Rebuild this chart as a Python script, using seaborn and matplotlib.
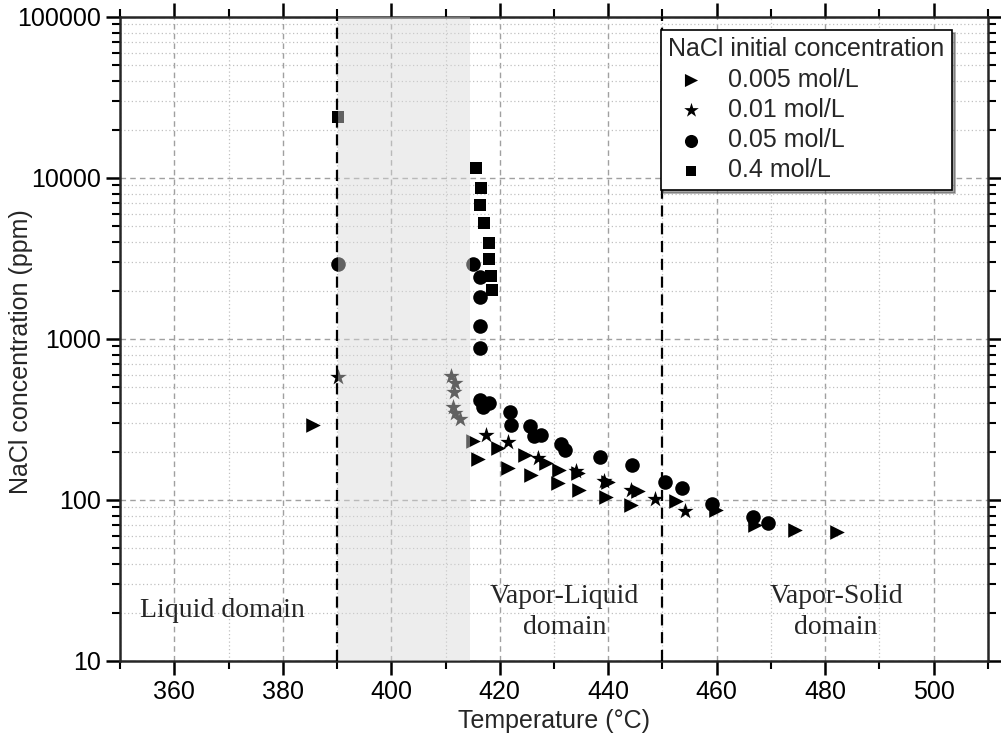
"""NaCl concentration vs temperature for several initial NaCl concentrations."""

import matplotlib

matplotlib.use("Agg")
import matplotlib.pyplot as plt
import matplotlib.ticker as mticker
import pandas as pd
import seaborn as sns

sns.set_style("ticks")
plt.rcParams["font.family"] = ["Liberation Sans", "DejaVu Sans"]

# 0.005 mol/L (triangles)
t_0005 = [385.5, 415.1, 416.0, 419.7, 421.5, 424.6, 425.8, 428.6, 430.7, 431.0,
          434.5, 434.6, 440.0, 439.5, 445.5, 444.2, 452.5, 459.8, 467.1, 474.4,
          482.2]
c_0005 = [292, 233, 179, 209, 157, 190, 143, 169, 127, 154,
          147, 115, 130, 104, 113, 93, 98, 87, 70, 65,
          63.5]

# 0.01 mol/L (stars)
t_001 = [390.1, 411.1, 411.7, 411.5, 411.4, 411.7, 412.6, 417.5, 421.5, 427.0,
         434.0, 439.3, 444.2, 448.7, 454.2]
c_001 = [583, 589, 531, 471, 380, 345, 317, 253, 230, 181,
         152, 132, 115, 101, 86]

# 0.05 mol/L (circles)
t_005 = [390.1, 415.1, 416.3, 416.4, 416.4, 416.3, 416.3, 418.0, 416.9, 421.8,
         422.0, 425.5, 426.4, 427.6, 431.2, 432.0, 438.4, 444.4, 450.5, 453.6,
         459.2, 466.7, 469.5]
c_005 = [2913, 2913, 2415, 1833, 1205, 879, 418, 399, 380, 354,
         292, 290, 250, 253, 222, 205, 186, 165, 130, 118,
         95, 78, 72]

# 0.4 mol/L (squares)
t_04 = [390.2, 415.6, 416.6, 416.4, 417.1, 418.0, 418.0, 418.4, 418.6]
c_04 = [23900, 11590, 8630, 6800, 5280, 3960, 3150, 2460, 2010]

series_labels = ["0.005 mol/L", "0.01 mol/L", "0.05 mol/L", "0.4 mol/L"]
series_markers = [">", "*", "o", "s"]
series_sizes = [110, 150, 110, 75]

x_major = [360, 380, 400, 420, 440, 460, 480, 500]
y_major = [10, 100, 1000, 10000, 100000]
y_labels = ["10", "100", "1000", "10000", "100000"]

frames = []
for lab, t, c in zip(series_labels, [t_0005, t_001, t_005, t_04],
                     [c_0005, c_001, c_005, c_04]):
    frames.append(pd.DataFrame({"T": t, "C": c, "serie": lab}))
df = pd.concat(frames, ignore_index=True)

fig = plt.figure(figsize=(10.01, 7.42), dpi=100)
ax = fig.add_axes([0.1199, 0.1092, 0.8671, 0.8679])

for lab, mk, sz in zip(series_labels, series_markers, series_sizes):
    sns.scatterplot(
        data=df[df["serie"] == lab],
        x="T",
        y="C",
        marker=mk,
        s=sz,
        color="black",
        linewidth=0,
        label=lab,
        zorder=2,
        ax=ax,
    )

ax.set_yscale("log")
ax.set_xlim(350, 510)
ax.set_ylim(10, 100000)

# zona cinzenta por cima dos pontos (deixa-os acinzentados)
ax.axvspan(390.25, 414.6, color="#d8d8d8", alpha=0.45, lw=0, zorder=3)
for xv in (390, 450):
    ax.axvline(xv, color="black", lw=1.6, ls=(0, (5, 3)), zorder=4)

ax.set_xticks(x_major)
ax.xaxis.set_minor_locator(mticker.MultipleLocator(10))
ax.set_yticks(y_major)
ax.set_yticklabels(y_labels)
ax.yaxis.set_minor_locator(mticker.LogLocator(base=10, subs=range(2, 10)))
ax.yaxis.set_minor_formatter(mticker.NullFormatter())

ax.set_axisbelow(True)
ax.grid(which="major", color="#a0a0a0", lw=1.0, ls=(0, (4, 3)))
ax.grid(which="minor", color="#c0c0c0", lw=0.9, ls=(0, (1, 2)))

ax.tick_params(which="both", direction="out", top=True, right=True,
               labelsize=18, colors="black")
ax.tick_params(which="major", length=10, width=1.8)
ax.tick_params(which="minor", length=6, width=1.5)
for sp in ax.spines.values():
    sp.set_linewidth(1.8)

ax.set_xlabel("Temperature (°C)", fontsize=18, labelpad=4)
ax.set_ylabel("NaCl concentration (ppm)", fontsize=18)
ax.yaxis.set_label_coords(-0.1, 0.48)

serif = ["Liberation Serif", "DejaVu Serif"]
ax.text(368.8, 20.7, "Liquid domain", family=serif, fontsize=20,
        ha="center", va="center")
ax.text(431.9, 20.1, "Vapor-Liquid\ndomain", family=serif, fontsize=20,
        ha="center", va="center", multialignment="center", linespacing=1.3)
ax.text(482.0, 20.1, "Vapor-Solid\ndomain", family=serif, fontsize=20,
        ha="center", va="center", multialignment="center", linespacing=1.3)

leg = ax.legend(
    title="NaCl initial concentration",
    loc="upper right",
    bbox_to_anchor=(0.9585, 0.98),
    borderaxespad=0,
    fontsize=18,
    title_fontsize=18,
    frameon=True,
    fancybox=False,
    shadow=True,
    edgecolor="black",
    framealpha=1,
    labelspacing=0.25,
    handletextpad=0.6,
    handlelength=1.8,
    borderpad=0.3,
    markerscale=0.9,
    alignment="left",
)
leg.get_frame().set_linewidth(1.2)

fig.savefig("out.png", dpi=100)
